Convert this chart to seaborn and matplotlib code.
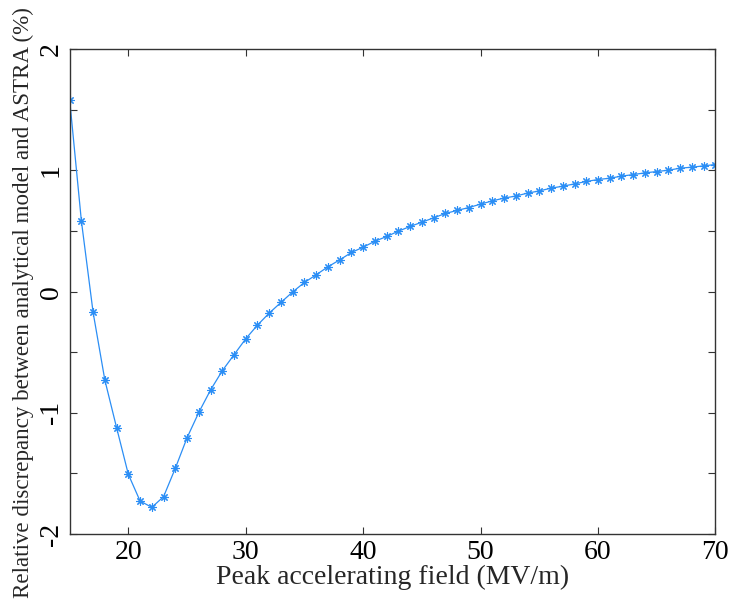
import numpy as np
import pandas as pd
import seaborn as sns
import matplotlib
matplotlib.use("Agg")
import matplotlib.pyplot as plt

field = list(range(15, 71))
discrepancy = [1.585, 0.584, -0.172, -0.73, -1.123, -1.508, -1.728, -1.78, -1.692, -1.458,
               -1.206, -0.997, -0.812, -0.653, -0.521, -0.389, -0.276, -0.177, -0.089, -0.002,
               0.076, 0.139, 0.205, 0.262, 0.323, 0.367, 0.416, 0.455, 0.499, 0.538,
               0.573, 0.609, 0.645, 0.670, 0.694, 0.722, 0.749, 0.772, 0.789, 0.813,
               0.831, 0.854, 0.870, 0.889, 0.909, 0.925, 0.936, 0.953, 0.966, 0.980,
               0.991, 1.002, 1.019, 1.027, 1.038, 1.049]
xticks = [20, 30, 40, 50, 60, 70]
yticks = [-2, -1.5, -1, -0.5, 0, 0.5, 1, 1.5, 2]
yticklabels = ["-2", "", "-1", "", "0", "", "1", "", "2"]

sns.set_style("ticks")
plt.rcParams["font.family"] = ["Liberation Serif", "DejaVu Serif"]

df = pd.DataFrame({"field": field, "disc": discrepancy})

fig = plt.figure(figsize=(7.33, 6.01), dpi=100)
ax = fig.add_axes([0.095, 0.1115, 0.881, 0.8065])
sns.lineplot(data=df, x="field", y="disc", ax=ax, color="#2b8ef5", linewidth=0.9,
             marker=(8, 2, 0), markersize=6, markeredgecolor="#2b8ef5", markeredgewidth=0.8)
ax.set_xlim(15, 70)
ax.set_ylim(-2, 2)
ax.set_xticks(xticks)
ax.set_xticklabels([str(t) for t in xticks], fontsize=20)
ax.set_yticks(yticks)
ax.set_yticklabels(yticklabels, fontsize=20, rotation=90, va="center")
ax.tick_params(direction="in", top=True, right=True, length=5, width=0.8, colors="#333333",
               labelcolor="black", pad=4)
for s in ax.spines.values():
    s.set_linewidth(1.0)
    s.set_color("#333333")
ax.set_xlabel("Peak accelerating field (MV/m)", fontsize=20, labelpad=0)
ax.set_ylabel("Relative discrepancy between analytical model and ASTRA (%)", fontsize=16.6)
ax.yaxis.set_label_coords(-0.055, 0.478)
fig.savefig("out.png", dpi=100)
